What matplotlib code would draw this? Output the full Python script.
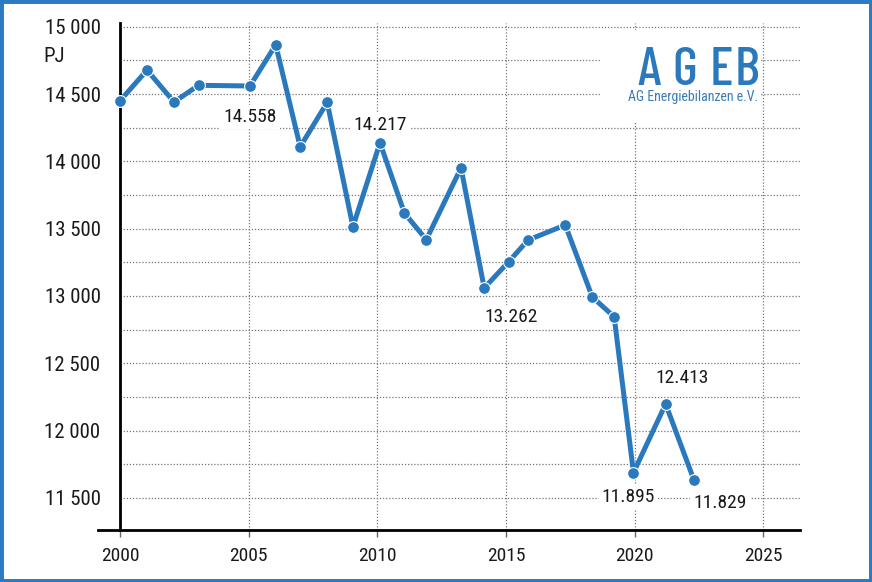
import matplotlib
matplotlib.use("Agg")
import matplotlib.pyplot as plt
from matplotlib.patches import Rectangle

# primary energy use in Germany, PJ
years = [2000, 2001, 2002, 2003, 2005, 2006, 2007, 2008, 2009, 2010, 2011,
         2012, 2013, 2014, 2015, 2016, 2017, 2018, 2019, 2020, 2021, 2022]
# the points in the original sit a bit off the year grid, so keep where they are drawn
year_pos = [2000.0, 2001.05, 2002.1, 2003.05, 2005.05, 2006.05, 2007.0, 2008.05,
            2009.05, 2010.1, 2011.05, 2011.9, 2013.25, 2014.15, 2015.1, 2015.85,
            2017.3, 2018.35, 2019.2, 2019.95, 2021.2, 2022.3]
pj = [14450, 14678, 14441, 14565, 14560, 14866, 14108, 14438, 13514, 14138, 13616,
      13418, 13952, 13059, 13254, 13415, 13527, 12992, 12845, 11687, 12197, 11632]

label_years = [2005, 2010, 2015, 2020, 2021, 2022]
label_texts = ["14.558", "14.217", "13.262", "11.895", "12.413", "11.829"]
label_offsets = [(0, -31), (0, 18), (2, -55), (-5, -24), (16, 26), (26, -23)]  # pixels

y_major = [11500, 12000, 12500, 13000, 13500, 14000, 14500, 15000]
y_grid = [11500, 11750, 12000, 12250, 12500, 12750, 13000, 13250, 13500, 13750,
          14000, 14250, 14500, 14750, 15000]
x_ticks = [2000, 2005, 2010, 2015, 2020, 2025]

blue = '#2b79bd'
plt.rcParams['font.family'] = ['Roboto Condensed', 'DejaVu Sans']

fig = plt.figure(figsize=(8.72, 5.82), dpi=100)
W, H = 872, 582
ax = fig.add_axes([98 / W, 52 / H, 702 / W, 507 / H])
ax.set_xlim(1999.145, 2026.42)
ax.set_ylim(11261, 15028)

# dotted grid
ax.hlines(y_grid, 2000, 2026.42, colors='#777777', linestyles=(0, (1, 1.5)), linewidth=0.9, zorder=1)
ax.vlines(x_ticks[1:], 11261, 15028, colors='#777777', linestyles=(0, (1, 1.5)), linewidth=0.9, zorder=1)

# white box behind the logo
ax.add_patch(Rectangle((601 / W, 1 - 123 / H), 159 / W, 93 / H, transform=fig.transFigure,
                       facecolor='white', edgecolor='none', zorder=1.5))

ax.plot(year_pos, pj, color=blue, linewidth=3.6, marker='o', markersize=8.5,
        markerfacecolor=blue, markeredgecolor='white', markeredgewidth=0.8, zorder=3)

for yr, txt, off in zip(label_years, label_texts, label_offsets):
    i = years.index(yr)
    ax.annotate(txt, (year_pos[i], pj[i]), xytext=off, textcoords='offset pixels',
                ha='center', va='center', fontsize=14, color='#1a1a1a', zorder=4,
                bbox=dict(boxstyle='square,pad=0.15', facecolor='white', edgecolor='none'))

for s in ['top', 'right']:
    ax.spines[s].set_visible(False)
ax.spines['left'].set_position(('data', 2000))
ax.spines['left'].set_linewidth(2)
ax.spines['bottom'].set_linewidth(2)

ax.set_yticks(y_major)
ax.set_yticklabels([f'{v:,}'.replace(',', ' ') for v in y_major])
ax.tick_params(axis='y', length=0, pad=14, labelsize=15, labelcolor='#1a1a1a')
ax.set_xticks(x_ticks)
ax.set_xticklabels([str(x) for x in x_ticks])
ax.tick_params(axis='x', length=5, width=1, color='#666666', pad=7, labelsize=14,
               labelcolor='#1a1a1a')

fig.text(43 / W, 1 - 57 / H, 'PJ', ha='left', va='center', fontsize=15, color='#1a1a1a')

# AGEB logo
for ch, cx in zip('AGEB', [649, 684.5, 721, 747]):
    fig.text(cx / W, 1 - 85 / H, ch, ha='center', va='baseline', fontsize=39, color=blue,
             fontweight='medium', family=['Barlow Condensed', 'Roboto Condensed', 'DejaVu Sans'])
fig.text(693 / W, 1 - 101 / H, 'AG Energiebilanzen e.V.', ha='center', va='baseline',
         fontsize=10, color='#3a7cb8')

fig.patches.append(Rectangle((0, 0), 1, 1, transform=fig.transFigure, fill=False,
                             edgecolor='#2a7bc4', linewidth=5))

fig.savefig('out.png', dpi=100)
